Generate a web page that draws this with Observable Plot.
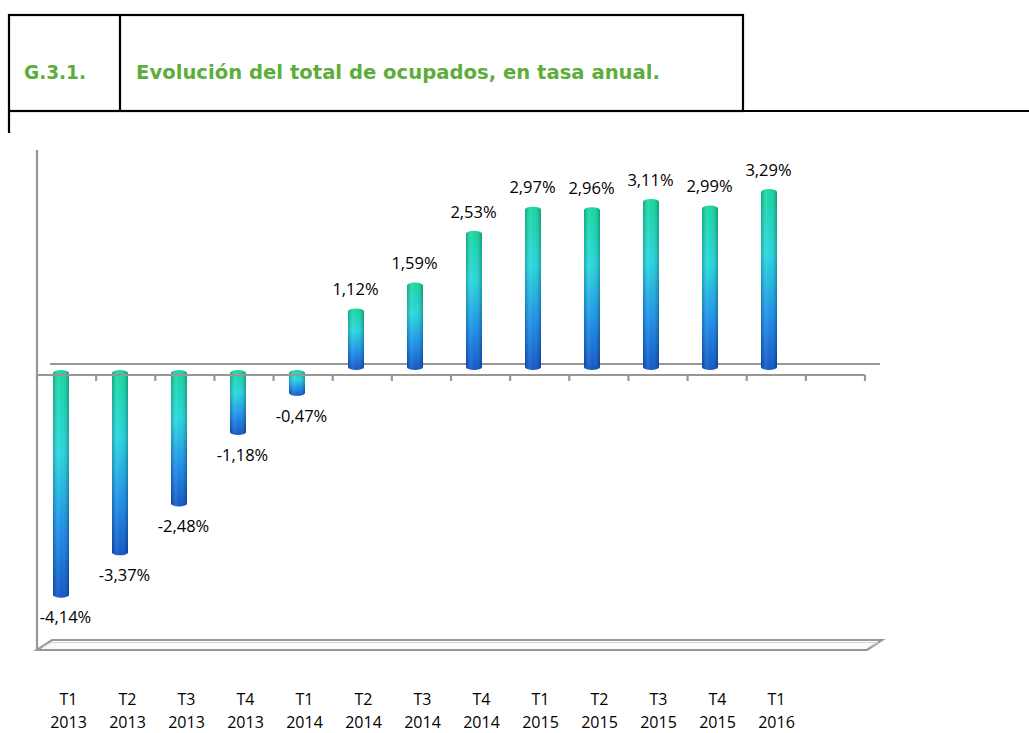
<!DOCTYPE html>
<html>
<head>
<meta charset="utf-8">
<script src="https://cdn.jsdelivr.net/npm/d3@7"></script>
<script src="https://cdn.jsdelivr.net/npm/@observablehq/plot@0.6"></script>
<style>
  html, body { margin: 0; padding: 0; background: #fff; }
  #wrap { position: relative; width: 1029px; height: 733px; overflow: hidden; }
  #wrap > div > svg { position: absolute; left: 0; top: 0; }
  #header { position: absolute; left: 0; top: 0; }
</style>
</head>
<body>
<div id="wrap">
  <div id="chart"></div>
  <svg id="header" width="1029" height="140" xmlns="http://www.w3.org/2000/svg">
    <g stroke="#000" stroke-width="2.2" fill="none">
      <rect x="9" y="15" width="734" height="96"></rect>
      <line x1="120" y1="15" x2="120" y2="111"></line>
      <line x1="9" y1="111" x2="1029" y2="111"></line>
      <line x1="9" y1="111" x2="9" y2="133"></line>
    </g>
    <text id="code" x="24" y="79" fill="#5cad3c" font-family="DejaVu Sans" font-weight="bold" font-size="19" textLength="62" lengthAdjust="spacingAndGlyphs">G.3.1.</text>
    <text id="title" x="136" y="79" fill="#5cad3c" font-family="DejaVu Sans" font-weight="bold" font-size="19" textLength="524" lengthAdjust="spacingAndGlyphs">Evolución del total de ocupados, en tasa anual.</text>
  </svg>
</div>
<script>
// ---- data ----
const quarters = ["T1","T2","T3","T4","T1","T2","T3","T4","T1","T2","T3","T4","T1"];
const years    = ["2013","2013","2013","2013","2014","2014","2014","2014","2015","2015","2015","2015","2016"];
const values   = [-4.14, -3.37, -2.48, -1.18, -0.47, 1.12, 1.59, 2.53, 2.97, 2.96, 3.11, 2.99, 3.29];
const yDomain  = [-5, 4];

const data = values.map((v, i) => ({key: quarters[i] + " " + years[i], q: quarters[i], yr: years[i], v}));
const xDomain = data.map(d => d.key).concat([" "]);
const locale = d3.formatLocale({decimal: ",", thousands: ".", grouping: [3], currency: ["", " €"], minus: "-"});
const fmt = v => locale.format(".2f")(v) + "%";

const defsMark = () => {
  const defs = d3.create("svg:defs");
  const g = defs.append("linearGradient").attr("id", "cyl").attr("x1", 0).attr("y1", 0).attr("x2", 0).attr("y2", 1);
  [["0%", "#10d49a"], ["36%", "#20d5dc"], ["70%", "#168ce8"], ["100%", "#0a50c4"]]
    .forEach(([o, c]) => g.append("stop").attr("offset", o).attr("stop-color", c));
  const s = defs.append("linearGradient").attr("id", "shade").attr("x1", 0).attr("y1", 0).attr("x2", 1).attr("y2", 0);
  [["0%", "#000", 0.2], ["30%", "#fff", 0.12], ["55%", "#fff", 0.04], ["100%", "#000", 0.26]]
    .forEach(([o, c, op]) => s.append("stop").attr("offset", o).attr("stop-color", c).attr("stop-opacity", op));
  return defs.node();
};

const LINE = "#979797";

const backMark = (index, scales, values, dim) => {
  const y = scales.y;
  const left = dim.marginLeft, right = dim.width - dim.marginRight;
  const y0 = y(0), yb = y(yDomain[0]), yt = y(yDomain[1]);
  const g = d3.create("svg:g").attr("fill", "none").attr("stroke", LINE).attr("stroke-width", 2.2);
  g.append("path").attr("fill", "#fbfbfb")
    .attr("d", `M${left},${yb + 5}L${left + 15},${yb - 5}L${right + 17},${yb - 5}L${right + 2},${yb + 5}Z`);
  g.append("path").attr("stroke", "#d6d6d6").attr("stroke-width", 1.2)
    .attr("d", `M${left + 6},${yb + 2}L${left + 14},${yb - 2.5}L${right + 12},${yb - 2.5}L${right + 4},${yb + 2}`);
  g.append("line").attr("x1", left + 13).attr("x2", right + 15).attr("y1", y0 - 6).attr("y2", y0 - 6);
  g.append("line").attr("x1", left).attr("x2", left).attr("y1", yt).attr("y2", yb + 5);
  return g.node();
};

const frontMark = (index, scales, values, dim) => {
  const y = scales.y;
  const left = dim.marginLeft, right = dim.width - dim.marginRight;
  const y0 = y(0);
  const step = (right - left) / xDomain.length;
  const g = d3.create("svg:g").attr("fill", "none").attr("stroke", LINE).attr("stroke-width", 2.2);
  g.append("line").attr("x1", left).attr("x2", right).attr("y1", y0 + 5).attr("y2", y0 + 5);
  for (let k = 0; k <= xDomain.length; k++) {
    const xx = left + k * step;
    g.append("line").attr("x1", xx).attr("x2", xx).attr("y1", y0 + 5).attr("y2", y0 + 11);
  }
  return g.node();
};

const chart = Plot.plot({
  width: 1029,
  height: 733,
  marginLeft: 37,
  marginRight: 164,
  marginTop: 150,
  marginBottom: 88,
  style: {fontFamily: "'Open Sans', sans-serif", fontSize: "16px", background: "transparent", color: "#000"},
  x: {type: "band", domain: xDomain, paddingInner: 0.73, paddingOuter: 0.365, axis: null},
  y: {domain: yDomain, axis: null},
  marks: [
    defsMark,
    backMark,
    Plot.barY(data, {x: "key", y: "v", fill: "url(#cyl)", rx: 8, ry: 3, dx: -7}),
    Plot.barY(data, {x: "key", y: "v", fill: "url(#shade)", rx: 8, ry: 3, dx: -7}),
    frontMark,
    Plot.text(data.filter(d => d.v >= 0), {x: "key", y: "v", text: d => fmt(d.v), dy: -19, dx: -8, fill: "#000", fontSize: 16.5}),
    Plot.text(data.filter(d => d.v < 0), {x: "key", y: "v", text: d => fmt(d.v), dy: 20, dx: -3, fill: "#000", fontSize: 16.5}),
    Plot.text(data, {x: "key", text: "q", frameAnchor: "bottom", dy: 59, fill: "#000", fontSize: 16}),
    Plot.text(data, {x: "key", text: "yr", frameAnchor: "bottom", dy: 82, fill: "#000", fontSize: 16})
  ]
});
document.getElementById("chart").appendChild(chart);
</script>
</body>
</html>
